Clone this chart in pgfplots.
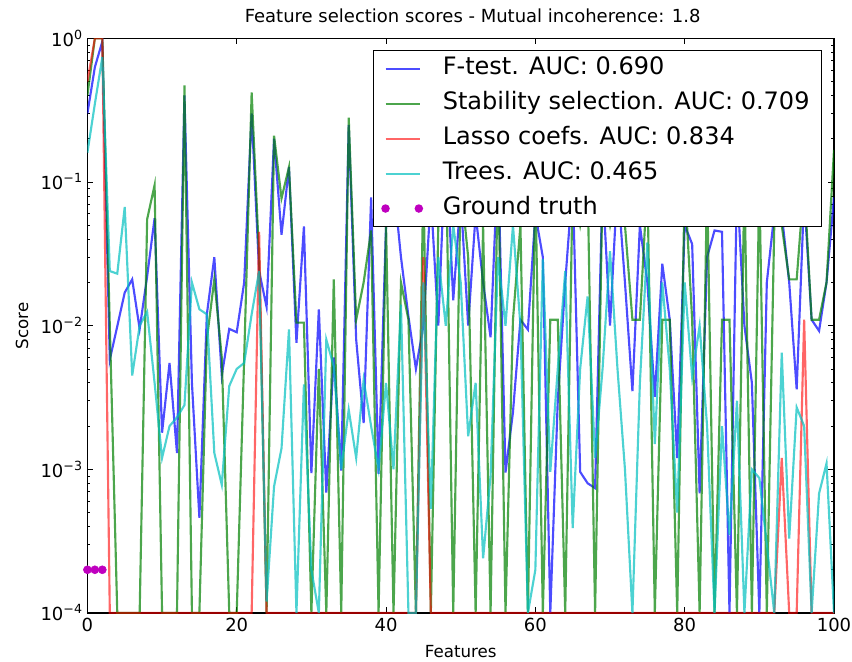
\documentclass[border=0pt]{standalone}
\usepackage{fontspec}
\setmainfont{DejaVu Sans}
\usepackage{pgfplots}
\usepackage{pgfplotstable}
\pgfplotsset{compat=1.18}
\definecolor{mplblue}{rgb}{0,0,1}
\definecolor{mplgreen}{rgb}{0,0.5,0}
\definecolor{mplred}{rgb}{1,0,0}
\definecolor{mplcyan}{rgb}{0,0.75,0.75}
\definecolor{mplmag}{rgb}{0.75,0,0.75}

\pgfplotstableread{
x blue green red cyan
0 0.3 0.4 0.5 0.16
1 0.63 1 1 0.35
2 0.95 1 1 0.74
3 0.0058 0.01 1e-4 0.024
4 0.0099 1e-4 1e-4 0.023
5 0.017 1e-4 1e-4 0.067
6 0.021 1e-4 1e-4 0.0045
7 0.0095 1e-4 1e-4 0.01
8 0.022 0.055 1e-4 0.0125
9 0.056 0.095 1e-4 0.004
10 0.0018 1e-4 1e-4 0.0012
11 0.0055 1e-4 1e-4 0.002
12 0.0013 1e-4 1e-4 0.0023
13 0.4 0.47 1e-4 0.0028
14 0.004 1e-4 1e-4 0.02
15 0.00046 1e-4 1e-4 0.013
16 0.012 0.008 1e-4 0.012
17 0.03 0.021 1e-4 0.0013
18 0.0045 0.006 1e-4 0.00078
19 0.0095 1e-4 1e-4 0.0038
20 0.009 1e-4 1e-4 0.005
21 0.02 0.006 1e-4 0.0055
22 0.3 0.42 1e-4 0.012
23 0.024 0.03 0.045 0.024
24 0.0135 1e-4 1e-4 1.2e-4
25 0.2 0.21 1e-4 7.6e-4
26 0.043 0.077 1e-4 0.0014
27 0.127 0.127 1e-4 0.0094
28 0.0076 0.0105 1e-4 1e-4
29 0.049 0.0105 1e-4 0.0039
30 0.00094 1e-4 1e-4 2e-4
31 0.013 0.005 1e-4 1e-4
32 0.00069 1e-4 1e-4 0.008
33 0.006 0.021 1e-4 0.0052
34 0.00098 1e-4 1e-4 0.001
35 0.25 0.28 1e-4 0.0026
36 0.008 0.011 1e-4 0.0012
37 0.0021 0.02 1e-4 0.0042
38 0.078 0.046 1e-4 0.002
39 0.00093 1e-4 1e-4 0.001
40 0.05 0.05 1e-4 0.004
41 0.1 1e-4 1e-4 0.001
42 0.03 0.02 1e-4 0.014
43 0.0116 0.011 1e-4 1e-4
44 0.005 1e-4 1e-4 1e-4
45 0.01 0.1 0.03 0.02
46 0.08 1e-4 1e-4 5.3e-4
47 0.01 0.05 1e-4 0.03
48 0.2 0.2 1e-4 0.01
49 0.015 1e-4 1e-4 0.05
50 0.08 0.1 1e-4 0.02
51 0.01 0.03 1e-4 0.0017
52 0.06 1e-4 1e-4 0.004
53 0.02 0.05 1e-4 2.4e-4
54 0.0083 1e-4 1e-4 0.0009
55 0.15 0.15 1e-4 0.03
56 0.00095 1e-4 1e-4 0.01
57 0.0025 0.011 1e-4 0.05
58 0.011 0.05 1e-4 0.01
59 0.0094 1e-4 1e-4 1e-4
60 0.06 0.1 1e-4 2e-4
61 0.03 1e-4 1e-4 0.029
62 1e-4 0.011 1e-4 9.6e-4
63 0.003 0.011 1e-4 0.005
64 0.02 1e-4 1e-4 0.024
65 0.1 0.1 1e-4 3.9e-4
66 0.00096 0.05 1e-4 0.005
67 0.0008 0.1 1e-4 0.016
68 0.00074 1e-4 1e-4 0.0012
69 0.1 0.1 1e-4 0.005
70 0.01 0.05 1e-4 0.033
71 0.1 0.1 1e-4 0.005
72 0.02 0.05 1e-4 0.001
73 0.0035 0.011 1e-4 1e-4
74 0.05 0.011 1e-4 0.004
75 0.02 0.1 1e-4 0.038
76 0.0032 1e-4 1e-4 0.0015
77 0.027 0.011 1e-4 0.02
78 0.011 0.011 1e-4 0.005
79 0.0012 1e-4 1e-4 5e-4
80 0.05 0.1 1e-4 0.02
81 0.037 0.011 1e-4 0.0044
82 0.00068 1e-4 1e-4 0.01
83 0.03 0.1 1e-4 0.002
84 0.046 1e-4 1e-4 1e-4
85 0.045 0.011 1e-4 0.002
86 1e-4 0.011 1e-4 3.5e-4
87 0.1 1e-4 1e-4 0.003
88 0.01 0.1 1e-4 1e-4
89 0.004 1e-4 1e-4 0.001
90 1e-4 0.1 1e-4 8.7e-4
91 0.02 1e-4 1e-4 3e-4
92 0.06 0.05 1e-4 1e-4
93 0.06 0.05 0.0012 0.0065
94 0.02 0.021 1e-4 3.3e-4
95 0.0036 0.021 1e-4 0.0027
96 0.08 0.1 0.011 0.002
97 0.011 0.011 1e-4 1e-4
98 0.0092 0.011 1e-4 6.8e-4
99 0.02 0.02 1e-4 0.0011
100 0.078 0.167 1e-4 1e-4
}\scores

\pgfplotstableread{
x y
0 2e-4
1 2e-4
2 2e-4
}\truth

\begin{document}
\begin{tikzpicture}
\useasboundingbox (-65.55pt,-36pt) rectangle (573.45pt,459.75pt);
\begin{axis}[
  scale only axis, width=559.95pt, height=431pt,
  at={(0pt,0pt)}, anchor=south west,
  xmin=0, xmax=100, ymin=1e-4, ymax=1,
  ymode=log,
  axis line style={black, line width=0.9pt},
  xtick={0,20,40,60,80,100},
  ytick={1e-4,1e-3,1e-2,1e-1,1},
  yticklabels={{10\textsuperscript{−4}},{10\textsuperscript{−3}},{10\textsuperscript{−2}},{10\textsuperscript{−1}},{10\textsuperscript{0}}},
  /pgf/number format/assume math mode=true,
  tick label style={font=\fontsize{13.5}{13.5}\selectfont, black},
  major tick length=4.5pt, minor tick length=2.3pt,
  tick style={black, line width=0.6pt},
  tick align=inside,
  title={Feature selection scores - Mutual incoherence: 1.8},
  title style={font=\fontsize{13.5}{13.5}\selectfont, at={(axis description cs:0.516,1.0128)}, anchor=base},
  xlabel={Features},
  xlabel style={font=\fontsize{12.5}{12.5}\selectfont, at={(axis description cs:0.5,-0.0766)}, anchor=base},
  ylabel={Score},
  ylabel style={font=\fontsize{12.5}{12.5}\selectfont, at={(axis description cs:-0.0795,0.5)}, anchor=base},
  legend style={at={(axis description cs:0.984,0.9797)}, anchor=north east,
    font=\fontsize{18}{18}\selectfont, draw=black, line width=0.8pt,
    inner xsep=6pt, inner ysep=3pt, row sep=5.25pt,
    nodes={inner xsep=3pt, inner ysep=2pt, text height=13pt, text depth=4pt}},
  legend cell align=left,
  legend image code/.code={\draw[#1, line width=1.5pt] (0pt,0pt) -- (26pt,0pt); \path[draw=none, fill=none] (-2pt,0pt) -- (40pt,0pt);},
]
\addplot[mplblue, line width=1.6pt, opacity=0.7] table[x=x, y=blue] {\scores};
\addlegendentry{F-test. AUC: 0.690}
\addplot[mplgreen, line width=1.6pt, opacity=0.7] table[x=x, y=green] {\scores};
\addlegendentry{Stability selection. AUC: 0.709}
\addplot[mplred, line width=1.6pt, opacity=0.6] table[x=x, y=red] {\scores};
\addlegendentry{Lasso coefs. AUC: 0.834}
\addplot[mplcyan, line width=1.6pt, opacity=0.7] table[x=x, y=cyan] {\scores};
\addlegendentry{Trees. AUC: 0.465}
\addplot[only marks, mark=*, mark size=3pt, mplmag, mark options={draw=mplmag, fill=mplmag},
  legend image code/.code={\fill[mplmag, draw=none] (0pt,0pt) circle (3.2pt); \fill[mplmag, draw=none] (25pt,0pt) circle (3.2pt); \path[draw=none, fill=none] (-2pt,0pt) -- (40pt,0pt);}]
  table[x=x, y=y] {\truth};
\addlegendentry{Ground truth}
\end{axis}
\end{tikzpicture}
\end{document}
